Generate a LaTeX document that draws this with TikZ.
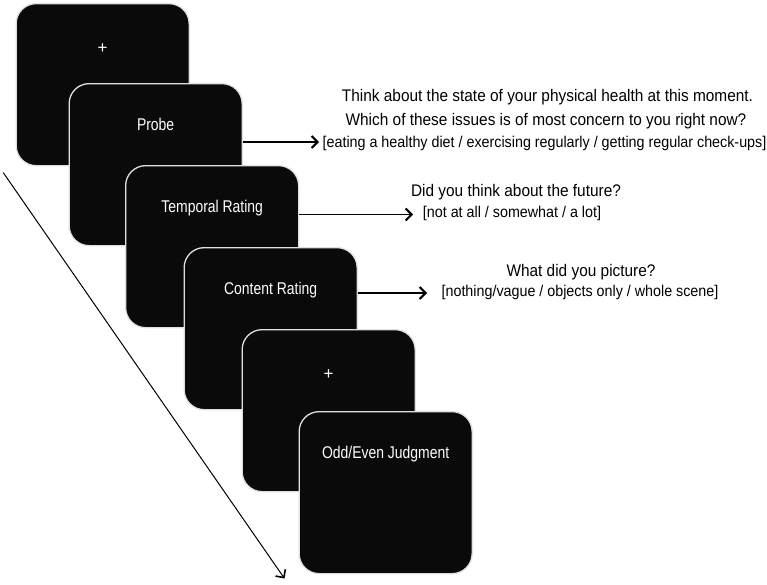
\documentclass[tikz,border=0pt]{standalone}
\usepackage{fontspec}
\setmainfont{Liberation Sans}
\newfontfamily\qfont[FakeStretch=0.917]{Liberation Sans}
\newfontfamily\lfont[FakeStretch=0.82]{Liberation Sans}
\usetikzlibrary{arrows.meta}
\tikzset{
  screen/.style={draw=white!88!black, fill=black!96!white, line width=1.3pt, rounded corners=20pt,
    minimum width=173pt, minimum height=162pt, anchor=north west, inner sep=0pt},
  lab/.style={text=white, font=\lfont\fontsize{17}{19}\selectfont, anchor=base, inner sep=0pt},
  plus/.style={text=white, font=\fontsize{17}{19}\selectfont, anchor=base, inner sep=0pt},
  qline/.style={font=\qfont\fontsize{16.8}{19}\selectfont, anchor=base, inner sep=0pt},
  oline/.style={font=\qfont\fontsize{15.6}{18}\selectfont, anchor=base, inner sep=0pt},
  arr/.style={line width=1.2pt, -{Straight Barb[length=6pt,width=12pt,line width=2.1pt]}},
  timearr/.style={line width=1pt, -{Straight Barb[length=6pt,width=12pt,line width=1.6pt]}}
}
\begin{document}
\begin{tikzpicture}[x=1pt,y=-1pt]
\useasboundingbox[fill=white] (0,0) rectangle (767,584);
% time arrow
\coordinate (tA) at (3.3,172.7);
\coordinate (tB) at (284.5,578.5);
\draw[timearr] (tA) -- (tB);
% screens
\node[screen] (s1) at (15.5,3) {};
\path (s1.north) ++(0,50.5) node[plus] (l1) {+};
\node[screen] (s2) at (68.5,83) {};
\path (s2.north) ++(0,47.5) node[lab] (l2) {Probe};
\node[screen] (s3) at (125,165) {};
\path (s3.north) ++(0,47.5) node[lab] (l3) {Temporal Rating};
\node[screen] (s4) at (183.5,247) {};
\path (s4.north) ++(0,47.5) node[lab] (l4) {Content Rating};
\node[screen] (s5) at (241.5,329) {};
\path (s5.north) ++(0,50.5) node[plus] (l5) {+};
\node[screen] (s6) at (298.5,411) {};
\path (s6.north) ++(0,47) node[lab] (l6) {Odd/Even Judgment};
% questions
\node[qline] (q1a) at (547.5,101.7) {Think about the state of your physical health at this moment.};
\node[qline] (q1b) at (546,125) {Which of these issues is of most concern to you right now?};
\node[oline] (q1c) at (544.5,147) {[eating a healthy diet / exercising regularly / getting regular check-ups]};
\node[qline] (q2a) at (516,196) {Did you think about the future?};
\node[oline] (q2b) at (512,217) {[not at all / somewhat / a lot]};
\node[qline] (q3a) at (581,276) {What did you picture?};
\node[oline] (q3b) at (580,296) {[nothing/vague / objects only / whole scene]};
% arrows
\coordinate (t1) at (319,142);
\coordinate (t2) at (413,214.5);
\coordinate (t3) at (427,293);
\draw[arr] (s2.east |- t1) -- (t1);
\draw[arr] (s3.east |- t2) -- (t2);
\draw[arr] (s4.east |- t3) -- (t3);
\end{tikzpicture}
\end{document}
